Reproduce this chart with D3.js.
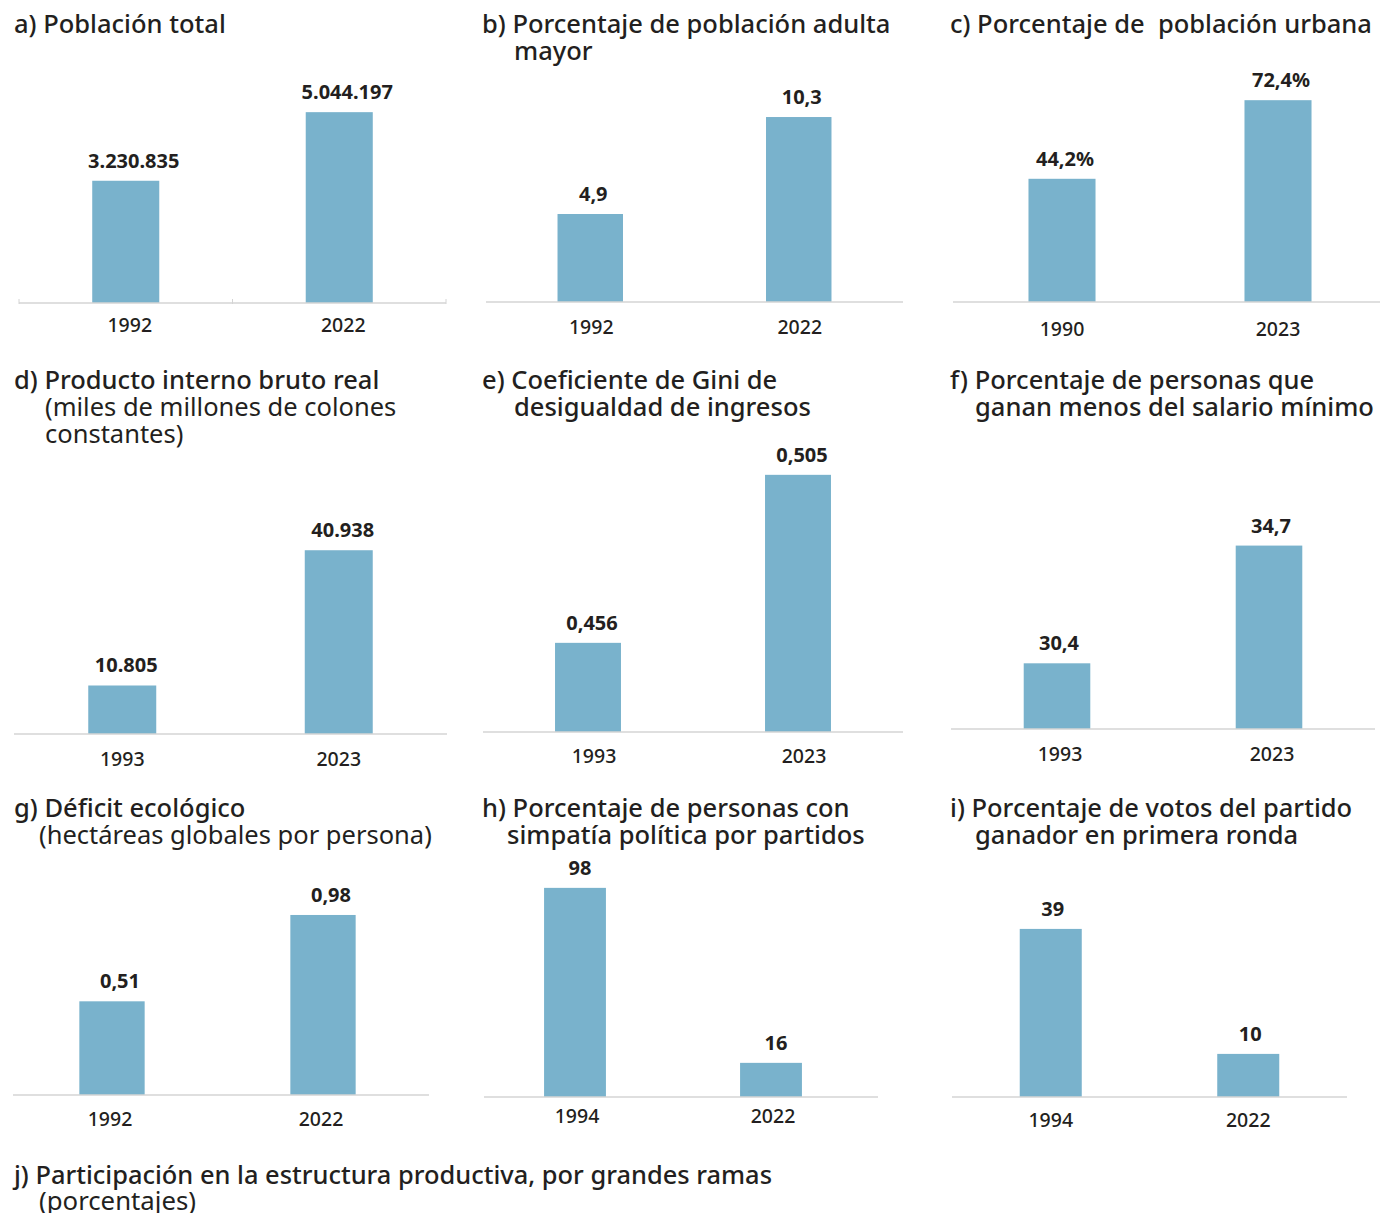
<!DOCTYPE html>
<html><head><meta charset="utf-8">
<script src="https://cdn.jsdelivr.net/npm/d3@7"></script>
<style>body{margin:0;background:#fff}svg{display:block}</style>
</head><body>
<svg id="c" width="1380" height="1213"></svg>
<script>
// ---- data ----
const panelIds = ["a","b","c","d","e","f","g","h","i"];
const titleLines = [
  ["a) Población total"],
  ["b) Porcentaje de población adulta","mayor"],
  ["c) Porcentaje de  población urbana"],
  ["d) Producto interno bruto real"],
  ["e) Coeficiente de Gini de","desigualdad de ingresos"],
  ["f) Porcentaje de personas que","ganan menos del salario mínimo"],
  ["g) Déficit ecológico"],
  ["h) Porcentaje de personas con","simpatía política por partidos"],
  ["i) Porcentaje de votos del partido","ganador en primera ronda"]
];
const subtitleLines = [[],[],[],["(miles de millones de colones","constantes)"],[],[],["(hectáreas globales por persona)"],[],[]];
const years = [["1992","2022"],["1992","2022"],["1990","2023"],["1993","2023"],["1993","2023"],["1993","2023"],["1992","2022"],["1994","2022"],["1994","2022"]];
const values = [[3230835,5044197],[4.9,10.3],[44.2,72.4],[10805,40938],[0.456,0.505],[30.4,34.7],[0.51,0.98],[98,16],[39,10]];
const valueFormats = [",d",".1f",".1f",",d",".3f",".1f",".2f","d","d"];
const valueSuffix = ["","","%","","","","","",""];
const yMin = [0,0,0,0,0.43,28,0,0,0];
const yMax = [6000000,12,80,45000,0.52,36,1,100,40];
const bottomTitle = "j) Participación en la estructura productiva, por grandes ramas";
const bottomSubtitle = "(porcentajes)";

// ---- layout (positions/styles) ----
const layout = [
  {x0:19,x1:446,base:303,top:76,tx:14,ty:33,ind:32,ticks:true,yd:29,yo:4,vo:8},
  {x0:486,x1:903,base:302,top:86.5,tx:482,ty:33,ind:32,yd:32,yo:1,vo:3},
  {x0:953,x1:1380,base:302,top:79,tx:950,ty:33,ind:32,cx:[1062,1278],yd:34,yo:0,vo:3},
  {x0:14,x1:447,base:734,top:532,tx:14,ty:389,ind:31,yd:32,yo:0,vo:4},
  {x0:483,x1:903,base:732,top:423.4,tx:482,ty:389,ind:32,yd:31,yo:6,vo:4},
  {x0:951,x1:1375,base:729,top:510,tx:950,ty:389,ind:25,yd:32,yo:3,vo:2},
  {x0:13,x1:429,base:1095,top:911.3,tx:14,ty:817,ind:25,cx:[112,323],yd:31,yo:-2,vo:8},
  {x0:484,x1:878,base:1097,top:883.6,tx:482,ty:817,ind:25,cx:[575,771],yd:26,yo:2,vo:5},
  {x0:952,x1:1347,base:1097,top:924.6,tx:950,ty:817,ind:25,yd:30,yo:0,vo:2}
];
const BAR = "#79b2cc", TXT = "#231f20", AX = "#d4d4d4";
const FONT = "'Noto Sans', 'Open Sans', sans-serif";
const loc = d3.formatLocale({decimal:",", thousands:".", grouping:[3], currency:["",""]});

const svg = d3.select("#c");
panelIds.forEach((id,i)=>{
  const L = layout[i];
  const g = svg.append("g").attr("class","panel-"+id);
  const x = d3.scaleBand().domain(years[i]).range([L.x0,L.x1]).paddingInner(0.686).paddingOuter(0.343);
  const y = d3.scaleLinear().domain([yMin[i],yMax[i]]).range([L.base,L.top]);
  const bw = x.bandwidth();
  const cx = (d,j)=> L.cx ? L.cx[j] : x(d)+bw/2;
  const data = years[i].map((yr,j)=>({yr,v:values[i][j],j}));
  // title block as one text with tspans
  const tt = g.append("text").attr("x",L.tx).attr("y",L.ty)
    .attr("font-family",FONT).attr("font-size",25.5).attr("fill",TXT).style("white-space","pre");
  titleLines[i].forEach((t,k)=>{
    tt.append("tspan").attr("x", k===0?L.tx:L.tx+L.ind).attr("y", L.ty+k*27).attr("font-weight",500).text(t);
  });
  const nT = titleLines[i].length;
  subtitleLines[i].forEach((t,k)=>{
    tt.append("tspan").attr("x", L.tx+L.ind).attr("y", L.ty+(nT+k)*27).attr("font-weight",400).text(t);
  });
  // bars
  g.selectAll("rect.bar").data(data).join("rect").attr("class","bar")
    .attr("x",d=>cx(d.yr,d.j)-bw/2).attr("width",bw)
    .attr("y",d=>y(d.v)).attr("height",d=>L.base-y(d.v)).attr("fill",BAR);
  // axis
  const axis = d3.axisBottom(x).tickSize(0).tickPadding(0);
  const ag = g.append("g").attr("transform",`translate(0,${L.base})`).call(axis);
  ag.select(".domain").attr("stroke",AX).attr("stroke-width",1.5).attr("d",`M${L.x0},0H${L.x1}`);
  ag.selectAll(".tick").attr("transform",(d)=>`translate(${cx(d,years[i].indexOf(d))+L.yo},0)`);
  ag.selectAll(".tick text").attr("y",L.yd).attr("dy",0).attr("font-family",FONT).attr("font-size",19.5)
    .attr("font-weight",500).attr("fill",TXT);
  if (L.ticks){
    [L.x0,(L.x0+L.x1)/2,L.x1].forEach(tx=>g.append("line").attr("x1",tx).attr("x2",tx)
      .attr("y1",L.base-4).attr("y2",L.base+1).attr("stroke",AX).attr("stroke-width",1));
  }
  // value labels
  const f = loc.format(valueFormats[i]);
  g.selectAll("text.val").data(data).join("text").attr("class","val")
    .attr("x",d=>cx(d.yr,d.j)+L.vo).attr("y",d=>y(d.v)-13).attr("text-anchor","middle")
    .attr("font-family",FONT).attr("font-size",20).attr("font-weight",700).attr("fill",TXT)
    .text(d=>f(d.v)+valueSuffix[i]);
});
const jt = svg.append("text").attr("x",14).attr("y",1184).attr("font-family",FONT).attr("font-size",25).attr("fill",TXT);
jt.append("tspan").attr("x",14).attr("y",1184).attr("font-weight",500)
  .attr("textLength",758).attr("lengthAdjust","spacingAndGlyphs").text(bottomTitle);
jt.append("tspan").attr("x",39).attr("y",1210).attr("font-weight",400)
  .attr("textLength",157).attr("lengthAdjust","spacingAndGlyphs").text(bottomSubtitle);
</script>
</body></html>
